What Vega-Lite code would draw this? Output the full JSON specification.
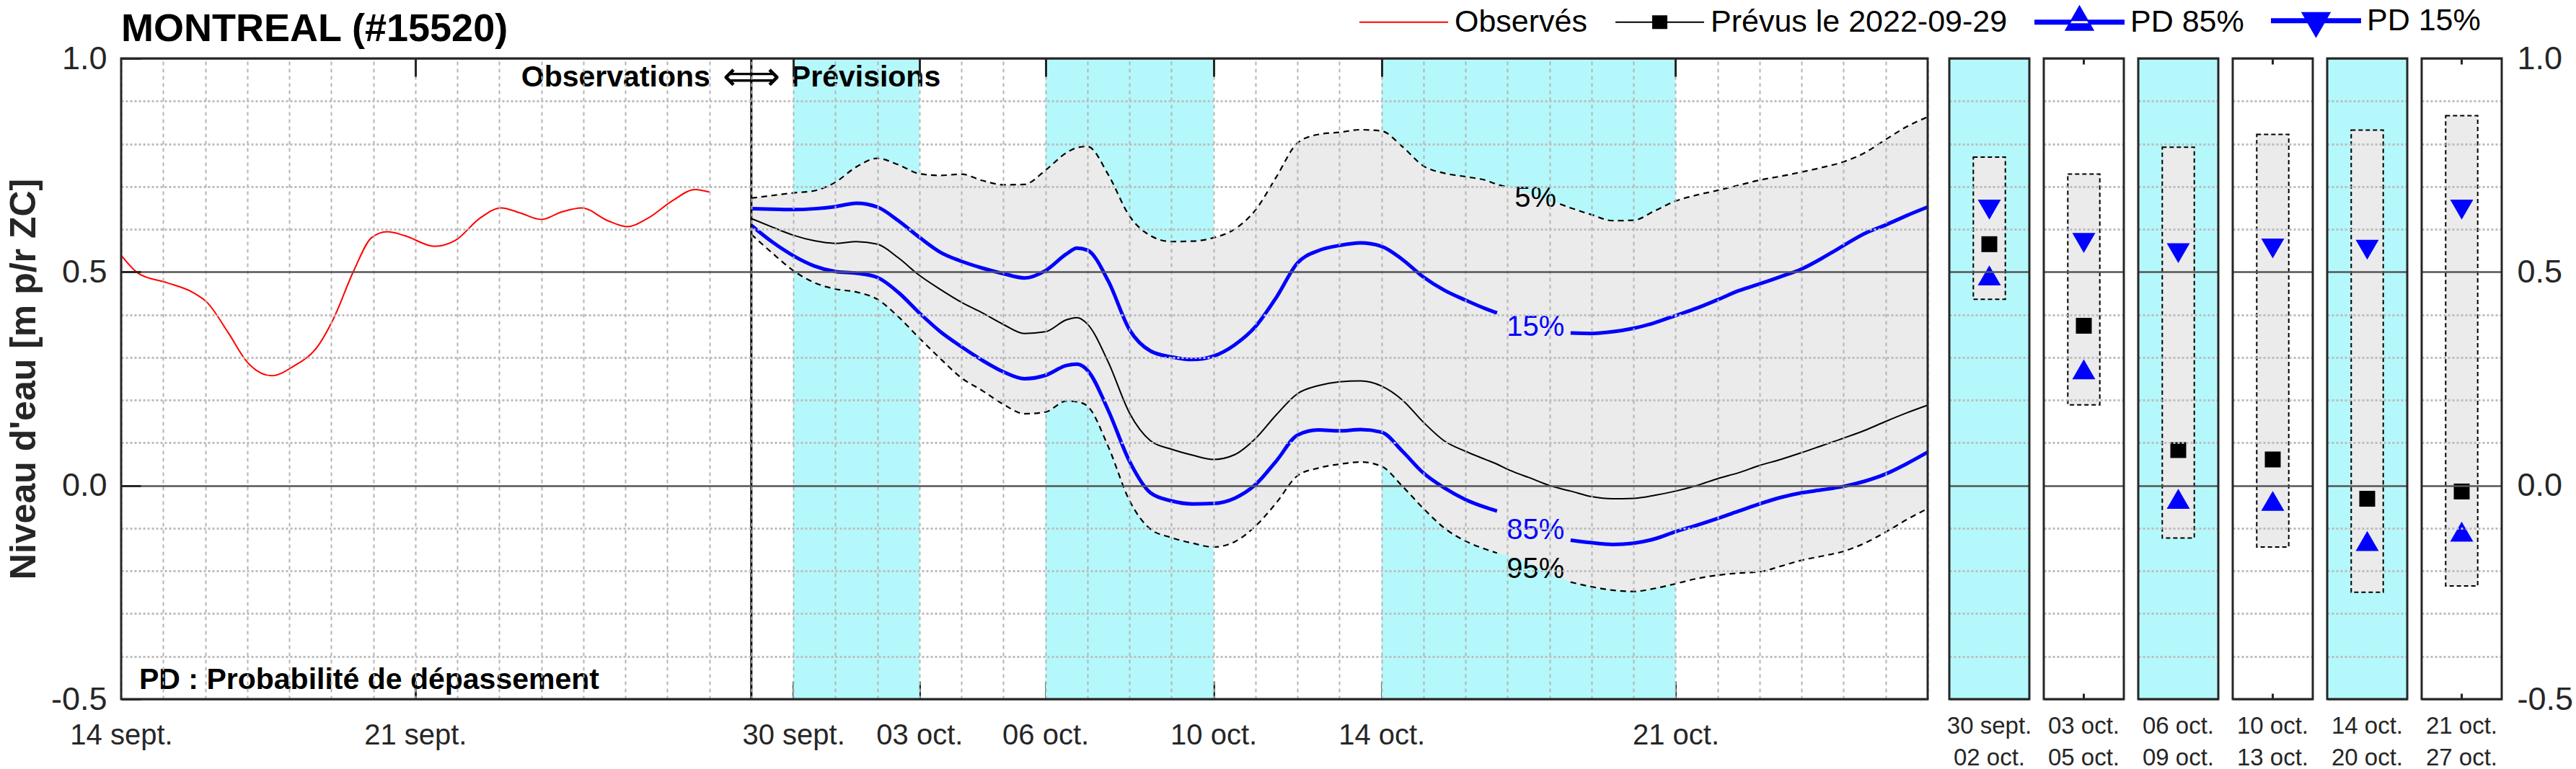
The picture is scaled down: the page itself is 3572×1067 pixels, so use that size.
{
  "$schema": "https://vega.github.io/schema/vega-lite/v6.json",
  "background": "white",
  "padding": {"left": 6, "top": 7, "right": 0, "bottom": 0},
  "datasets": {
    "obs": [
      {"t":"2022-09-14T00:00:00Z","v":0.539},{"t":"2022-09-14T10:00:00Z","v":0.496},{"t":"2022-09-15T02:00:00Z","v":0.475},
      {"t":"2022-09-15T17:00:00Z","v":0.452},{"t":"2022-09-16T01:00:00Z","v":0.429},{"t":"2022-09-16T13:00:00Z","v":0.359},
      {"t":"2022-09-17T00:00:00Z","v":0.289},{"t":"2022-09-17T14:00:00Z","v":0.257},{"t":"2022-09-18T02:00:00Z","v":0.278},
      {"t":"2022-09-18T17:00:00Z","v":0.330},{"t":"2022-09-19T01:00:00Z","v":0.388},{"t":"2022-09-19T13:00:00Z","v":0.504},
      {"t":"2022-09-19T23:00:00Z","v":0.580},{"t":"2022-09-20T08:00:00Z","v":0.594},{"t":"2022-09-20T18:00:00Z","v":0.585},
      {"t":"2022-09-21T11:00:00Z","v":0.560},{"t":"2022-09-21T23:00:00Z","v":0.574},{"t":"2022-09-22T13:00:00Z","v":0.626},
      {"t":"2022-09-23T01:00:00Z","v":0.650},{"t":"2022-09-23T12:00:00Z","v":0.638},{"t":"2022-09-24T00:00:00Z","v":0.623},
      {"t":"2022-09-24T12:00:00Z","v":0.641},{"t":"2022-09-24T23:00:00Z","v":0.650},{"t":"2022-09-25T14:00:00Z","v":0.620},
      {"t":"2022-09-26T01:00:00Z","v":0.606},{"t":"2022-09-26T13:00:00Z","v":0.626},{"t":"2022-09-27T03:00:00Z","v":0.667},
      {"t":"2022-09-27T16:00:00Z","v":0.693},{"t":"2022-09-28T00:00:00Z","v":0.687}
    ],
    "prevision": [
      {"t":"2022-09-29T00:00:00Z","p5":0.673,"p15":0.648,"moy":0.625,"p85":0.609,"p95":0.588},
      {"t":"2022-09-29T12:00:00Z","p5":0.679,"p15":0.647,"moy":0.605,"p85":0.570,"p95":0.544},
      {"t":"2022-09-30T00:00:00Z","p5":0.685,"p15":0.646,"moy":0.586,"p85":0.538,"p95":0.503},
      {"t":"2022-09-30T12:00:00Z","p5":0.690,"p15":0.648,"moy":0.573,"p85":0.514,"p95":0.475},
      {"t":"2022-10-01T00:00:00Z","p5":0.710,"p15":0.653,"moy":0.567,"p85":0.501,"p95":0.460},
      {"t":"2022-10-01T12:00:00Z","p5":0.746,"p15":0.661,"moy":0.571,"p85":0.497,"p95":0.453},
      {"t":"2022-10-02T00:00:00Z","p5":0.766,"p15":0.652,"moy":0.565,"p85":0.487,"p95":0.436},
      {"t":"2022-10-02T12:00:00Z","p5":0.751,"p15":0.620,"moy":0.533,"p85":0.452,"p95":0.395},
      {"t":"2022-10-03T00:00:00Z","p5":0.730,"p15":0.581,"moy":0.492,"p85":0.404,"p95":0.345},
      {"t":"2022-10-03T12:00:00Z","p5":0.726,"p15":0.546,"moy":0.459,"p85":0.360,"p95":0.297},
      {"t":"2022-10-04T00:00:00Z","p5":0.729,"p15":0.525,"moy":0.429,"p85":0.325,"p95":0.252},
      {"t":"2022-10-04T12:00:00Z","p5":0.714,"p15":0.509,"moy":0.404,"p85":0.293,"p95":0.222},
      {"t":"2022-10-05T00:00:00Z","p5":0.704,"p15":0.496,"moy":0.377,"p85":0.266,"p95":0.190},
      {"t":"2022-10-05T12:00:00Z","p5":0.705,"p15":0.486,"moy":0.356,"p85":0.250,"p95":0.168},
      {"t":"2022-10-06T00:00:00Z","p5":0.738,"p15":0.503,"moy":0.360,"p85":0.258,"p95":0.172},
      {"t":"2022-10-06T12:00:00Z","p5":0.779,"p15":0.542,"moy":0.388,"p85":0.281,"p95":0.198},
      {"t":"2022-10-06T18:00:00Z","p5":0.791,"p15":0.556,"moy":0.393,"p85":0.284,"p95":0.196},
      {"t":"2022-10-07T00:00:00Z","p5":0.794,"p15":0.551,"moy":0.378,"p85":0.270,"p95":0.186},
      {"t":"2022-10-07T12:00:00Z","p5":0.727,"p15":0.478,"moy":0.288,"p85":0.175,"p95":0.090},
      {"t":"2022-10-08T00:00:00Z","p5":0.631,"p15":0.365,"moy":0.170,"p85":0.057,"p95":-0.035},
      {"t":"2022-10-08T12:00:00Z","p5":0.585,"p15":0.315,"moy":0.105,"p85":-0.017,"p95":-0.102},
      {"t":"2022-10-09T00:00:00Z","p5":0.571,"p15":0.301,"moy":0.085,"p85":-0.036,"p95":-0.122},
      {"t":"2022-10-09T12:00:00Z","p5":0.572,"p15":0.295,"moy":0.071,"p85":-0.043,"p95":-0.135},
      {"t":"2022-10-10T00:00:00Z","p5":0.580,"p15":0.303,"moy":0.061,"p85":-0.042,"p95":-0.144},
      {"t":"2022-10-10T12:00:00Z","p5":0.600,"p15":0.329,"moy":0.072,"p85":-0.030,"p95":-0.132},
      {"t":"2022-10-11T00:00:00Z","p5":0.645,"p15":0.372,"moy":0.110,"p85":0.002,"p95":-0.095},
      {"t":"2022-10-11T12:00:00Z","p5":0.723,"p15":0.441,"moy":0.166,"p85":0.058,"p95":-0.040},
      {"t":"2022-10-12T00:00:00Z","p5":0.802,"p15":0.521,"moy":0.215,"p85":0.118,"p95":0.023},
      {"t":"2022-10-12T12:00:00Z","p5":0.822,"p15":0.550,"moy":0.234,"p85":0.130,"p95":0.041},
      {"t":"2022-10-13T00:00:00Z","p5":0.827,"p15":0.562,"moy":0.243,"p85":0.128,"p95":0.050},
      {"t":"2022-10-13T12:00:00Z","p5":0.833,"p15":0.568,"moy":0.245,"p85":0.131,"p95":0.055},
      {"t":"2022-10-14T00:00:00Z","p5":0.830,"p15":0.560,"moy":0.233,"p85":0.125,"p95":0.045},
      {"t":"2022-10-14T12:00:00Z","p5":0.793,"p15":0.529,"moy":0.200,"p85":0.080,"p95":-0.002},
      {"t":"2022-10-15T00:00:00Z","p5":0.748,"p15":0.488,"moy":0.148,"p85":0.029,"p95":-0.054},
      {"t":"2022-10-15T12:00:00Z","p5":0.731,"p15":0.457,"moy":0.104,"p85":-0.006,"p95":-0.100},
      {"t":"2022-10-16T00:00:00Z","p5":0.723,"p15":0.434,"moy":0.080,"p85":-0.033,"p95":-0.130},
      {"t":"2022-10-16T12:00:00Z","p5":0.714,"p15":0.413,"moy":0.060,"p85":-0.052,"p95":-0.150},
      {"t":"2022-10-16T18:00:00Z","p5":0.705,"p15":0.404,"moy":0.050,"p85":-0.060,"p95":-0.158},
      {"t":"2022-10-17T00:00:00Z","p5":0.699,"p15":0.395,"moy":0.038,"p85":-0.075,"p95":-0.165},
      {"t":"2022-10-17T06:00:00Z","p5":0.693,"p15":0.385,"moy":0.028,"p85":-0.090,"p95":-0.172},
      {"t":"2022-10-17T12:00:00Z","p5":0.684,"p15":0.376,"moy":0.019,"p85":-0.100,"p95":-0.182},
      {"t":"2022-10-18T00:00:00Z","p5":0.666,"p15":0.362,"moy":0.000,"p85":-0.118,"p95":-0.203},
      {"t":"2022-10-18T06:00:00Z","p5":0.659,"p15":0.359,"moy":-0.007,"p85":-0.124,"p95":-0.214},
      {"t":"2022-10-18T12:00:00Z","p5":0.650,"p15":0.357,"moy":-0.013,"p85":-0.128,"p95":-0.226},
      {"t":"2022-10-19T00:00:00Z","p5":0.634,"p15":0.356,"moy":-0.026,"p85":-0.134,"p95":-0.237},
      {"t":"2022-10-19T12:00:00Z","p5":0.620,"p15":0.360,"moy":-0.031,"p85":-0.138,"p95":-0.245},
      {"t":"2022-10-20T00:00:00Z","p5":0.621,"p15":0.368,"moy":-0.030,"p85":-0.135,"p95":-0.248},
      {"t":"2022-10-20T12:00:00Z","p5":0.643,"p15":0.381,"moy":-0.023,"p85":-0.125,"p95":-0.241},
      {"t":"2022-10-21T00:00:00Z","p5":0.666,"p15":0.398,"moy":-0.013,"p85":-0.108,"p95":-0.230},
      {"t":"2022-10-21T12:00:00Z","p5":0.680,"p15":0.415,"moy":0.000,"p85":-0.093,"p95":-0.218},
      {"t":"2022-10-22T00:00:00Z","p5":0.691,"p15":0.435,"moy":0.016,"p85":-0.077,"p95":-0.210},
      {"t":"2022-10-22T12:00:00Z","p5":0.703,"p15":0.456,"moy":0.030,"p85":-0.060,"p95":-0.205},
      {"t":"2022-10-23T00:00:00Z","p5":0.715,"p15":0.472,"moy":0.047,"p85":-0.043,"p95":-0.202},
      {"t":"2022-10-23T12:00:00Z","p5":0.724,"p15":0.489,"moy":0.061,"p85":-0.028,"p95":-0.189},
      {"t":"2022-10-24T00:00:00Z","p5":0.734,"p15":0.507,"moy":0.077,"p85":-0.017,"p95":-0.175},
      {"t":"2022-10-24T12:00:00Z","p5":0.745,"p15":0.533,"moy":0.094,"p85":-0.010,"p95":-0.165},
      {"t":"2022-10-25T00:00:00Z","p5":0.758,"p15":0.562,"moy":0.111,"p85":-0.002,"p95":-0.154},
      {"t":"2022-10-25T12:00:00Z","p5":0.779,"p15":0.590,"moy":0.129,"p85":0.010,"p95":-0.135},
      {"t":"2022-10-26T00:00:00Z","p5":0.810,"p15":0.610,"moy":0.150,"p85":0.027,"p95":-0.109},
      {"t":"2022-10-26T12:00:00Z","p5":0.840,"p15":0.632,"moy":0.170,"p85":0.051,"p95":-0.080},
      {"t":"2022-10-27T00:00:00Z","p5":0.863,"p15":0.652,"moy":0.188,"p85":0.078,"p95":-0.054}
    ],
    "periodes": [
      {"periode":"30 sept.|02 oct.","debut":"2022-09-30T00:00:00Z","fin":"2022-10-03T00:00:00Z","bande":1,"haut":0.769,"bas":0.436,"pd15":0.646,"moy":0.565,"pd85":0.492},
      {"periode":"03 oct.|05 oct.","debut":"2022-10-03T00:00:00Z","fin":"2022-10-06T00:00:00Z","bande":0,"haut":0.729,"bas":0.189,"pd15":0.568,"moy":0.374,"pd85":0.272},
      {"periode":"06 oct.|09 oct.","debut":"2022-10-06T00:00:00Z","fin":"2022-10-10T00:00:00Z","bande":1,"haut":0.792,"bas":-0.123,"pd15":0.544,"moy":0.083,"pd85":-0.031},
      {"periode":"10 oct.|13 oct.","debut":"2022-10-10T00:00:00Z","fin":"2022-10-14T00:00:00Z","bande":0,"haut":0.822,"bas":-0.144,"pd15":0.555,"moy":0.061,"pd85":-0.036},
      {"periode":"14 oct.|20 oct.","debut":"2022-10-14T00:00:00Z","fin":"2022-10-21T00:00:00Z","bande":1,"haut":0.832,"bas":-0.250,"pd15":0.552,"moy":-0.031,"pd85":-0.130},
      {"periode":"21 oct.|27 oct.","debut":"2022-10-21T00:00:00Z","fin":"2022-10-28T00:00:00Z","bande":0,"haut":0.866,"bas":-0.235,"pd15":0.646,"moy":-0.014,"pd85":-0.108}
    ],
    "etiquettes": [
      {"t":"2022-10-17T16:00:00Z","v":0.673,"texte":"5%","serie":"5%"},
      {"t":"2022-10-17T16:00:00Z","v":0.371,"texte":"15%","serie":"PD 15%"},
      {"t":"2022-10-17T16:00:00Z","v":-0.105,"texte":"85%","serie":"PD 85%"},
      {"t":"2022-10-17T16:00:00Z","v":-0.196,"texte":"95%","serie":"95%"}
    ],
    "annotations": [
      {"cle":"obs","texte":"Observations","t":"2022-09-29T00:00:00Z","v":0.954},
      {"cle":"fleche","texte":"⟺","t":"2022-09-29T00:00:00Z","v":0.954},
      {"cle":"prev","texte":"Prévisions","t":"2022-09-29T00:00:00Z","v":0.954},
      {"cle":"pd","texte":"PD : Probabilité de dépassement","t":"2022-09-14T00:00:00Z","v":-0.456}
    ]
  },
  "hconcat": [
    {
      "width": 2505,
      "height": 889,
      "title": {"text": "MONTREAL (#15520)", "anchor": "start", "frame": "group", "fontSize": 54, "fontWeight": "bold", "font": "Liberation Sans", "color": "#000000", "offset": -52, "baseline": "alphabetic"},
      "resolve": {"axis": {"x": "independent", "y": "independent"}},
      "layer": [
        {
          "data": {"name": "periodes"},
          "transform": [{"filter": "datum.bande == 1"}],
          "mark": {"type": "rect", "color": "#b4f8fb"},
          "encoding": {
            "x": {"field": "debut", "type": "temporal",
              "scale": {"type": "utc", "nice": false, "domain": [{"year": 2022, "month": 9, "date": 14, "utc": true}, {"year": 2022, "month": 10, "date": 27, "utc": true}]},
              "axis": {"orient": "bottom", "title": null, "ticks": false, "grid": false, "domain": false, "labelFlush": false, "labelOverlap": false, "labelBound": false,
                "values": [{"year":2022,"month":9,"date":14,"utc":true},{"year":2022,"month":9,"date":21,"utc":true},{"year":2022,"month":9,"date":30,"utc":true},{"year":2022,"month":10,"date":3,"utc":true},{"year":2022,"month":10,"date":6,"utc":true},{"year":2022,"month":10,"date":10,"utc":true},{"year":2022,"month":10,"date":14,"utc":true},{"year":2022,"month":10,"date":21,"utc":true}],
                "labelExpr": "utcFormat(datum.value, '%d') + (utcmonth(datum.value) == 8 ? ' sept.' : ' oct.')",
                "labelFontSize": 40, "labelFont": "Liberation Sans", "labelColor": "#262626", "labelPadding": 30, "labelBaseline": "top"}},
            "x2": {"field": "fin"},
            "y": {"datum": 1.0, "type": "quantitative", "axis": null},
            "y2": {"datum": -0.5}
          }
        },
        {
          "data": {"name": "prevision"},
          "mark": {"type": "area", "color": "#ebebeb", "interpolate": "monotone"},
          "encoding": {
            "x": {"field": "t", "type": "temporal",
              "axis": {"orient": "top", "title": null, "labels": false, "domain": false, "grid": true, "gridColor": "#b4b4b4", "gridDash": [5, 5], "gridWidth": 2, "zindex": 1,
                "tickCount": {"interval": "day", "step": 1}, "ticks": true, "tickSize": -25, "tickWidth": 3,
                "tickColor": {"condition": {"test": "indexof(['09-21','09-30','10-03','10-06','10-10','10-14','10-21'], utcFormat(datum.value, '%m-%d')) >= 0", "value": "#262626"}, "value": "transparent"}}},
            "y": {"field": "p95", "type": "quantitative",
              "scale": {"domain": [-0.5, 1.0], "nice": false, "zero": false},
              "axis": {"orient": "left", "title": null, "labels": false, "domain": false, "zindex": 1,
                "values": [-0.5,-0.4,-0.3,-0.2,-0.1,0,0.1,0.2,0.3,0.4,0.5,0.6,0.7,0.8,0.9,1.0],
                "grid": true,
                "gridColor": {"condition": {"test": "abs(datum.value*2 - round(datum.value*2)) < 0.001", "value": "#555555"}, "value": "#bdbdbd"},
                "gridDash": {"condition": {"test": "abs(datum.value*2 - round(datum.value*2)) < 0.001", "value": []}, "value": [3, 3]},
                "gridWidth": {"condition": {"test": "abs(datum.value*2 - round(datum.value*2)) < 0.001", "value": 2.5}, "value": 3},
                "ticks": true, "tickSize": -27, "tickWidth": 3,
                "tickColor": {"condition": {"test": "abs(datum.value*2 - round(datum.value*2)) < 0.001", "value": "#262626"}, "value": "transparent"}}},
            "y2": {"field": "p5"}
          }
        },
        {
          "data": {"name": "obs"},
          "mark": {"type": "line", "strokeWidth": 2, "interpolate": "monotone"},
          "encoding": {
            "x": {"field": "t", "type": "temporal",
              "axis": {"orient": "bottom", "title": null, "labels": false, "domain": false, "grid": false, "ticks": true, "tickSize": -25, "tickWidth": 3, "tickColor": "#262626",
                "values": [{"year":2022,"month":9,"date":21,"utc":true},{"year":2022,"month":9,"date":30,"utc":true},{"year":2022,"month":10,"date":3,"utc":true},{"year":2022,"month":10,"date":6,"utc":true},{"year":2022,"month":10,"date":10,"utc":true},{"year":2022,"month":10,"date":14,"utc":true},{"year":2022,"month":10,"date":21,"utc":true}]}},
            "y": {"field": "v", "type": "quantitative",
              "axis": {"orient": "left", "values": [-0.5, 0, 0.5, 1.0], "labelExpr": "(datum.value < 0 ? '-' : '') + format(abs(datum.value), '.1f')",
                "labelFontSize": 45, "labelFont": "Liberation Sans", "labelColor": "#262626", "labelPadding": 20, "labelFlush": false, "labelOverlap": false,
                "ticks": false, "grid": false, "domain": false,
                "title": "Niveau d'eau [m p/r ZC]", "titleFont": "Liberation Sans", "titleFontSize": 50, "titleFontWeight": "bold", "titleColor": "#262626", "titlePadding": 12}},
            "color": {"datum": "Observés", "type": "nominal",
              "scale": {"domain": ["Observés", "Prévus le 2022-09-29", "PD 85%", "PD 15%", "5%", "95%"], "range": ["#ff0000", "#000000", "#0000ff", "#0000ff", "#000000", "#000000"]},
              "legend": {"orient": "none", "legendX": 1757, "legendY": -74, "direction": "horizontal", "columns": 4, "title": null,
                "values": ["Observés", "Prévus le 2022-09-29", "PD 85%", "PD 15%"],
                "labelFont": "Liberation Sans", "labelFontSize": 43, "labelColor": "#000000", "labelLimit": 1000,
                "labelOffset": 49, "columnPadding": 34, "padding": 0, "symbolSize": 1600, "symbolStrokeWidth": 2,
                "encode": {"symbols": {"update": {
                  "shape": {"signal": "datum.value == 'Observés' ? 'M-3.075,0H3.075' : datum.value == 'PD 85%' ? 'M-3.075,-0.125H3.075V0.125H-3.075ZM-0.95,0.55H0.95L0,-1.1Z' : datum.value == 'PD 15%' ? 'M-3.075,-0.125H3.075V0.125H-3.075ZM-0.95,-0.55H0.95L0,1.1Z' : 'M-3.075,0H3.075M-0.475,-0.425H0.475V0.425H-0.475Z'"},
                  "fill": {"signal": "datum.value == 'Observés' ? 'transparent' : indexof(datum.value, 'PD') == 0 ? '#0000ff' : '#000000'"},
                  "stroke": {"signal": "datum.value == 'Observés' ? '#ff0000' : indexof(datum.value, 'PD') == 0 ? '#0000ff' : '#000000'"},
                  "strokeWidth": {"value": 2},
                  "opacity": {"value": 1}
                }}}}}
          }
        },
        {
          "data": {"name": "prevision"},
          "mark": {"type": "line", "strokeWidth": 2, "interpolate": "monotone"},
          "encoding": {
            "x": {"field": "t", "type": "temporal", "axis": null},
            "y": {"field": "moy", "type": "quantitative",
              "axis": {"orient": "right", "values": [0, 0.5], "labels": false, "domain": false, "grid": false, "ticks": true, "tickSize": -27, "tickWidth": 3, "tickColor": "#262626", "title": null}},
            "color": {"datum": "Prévus le 2022-09-29", "type": "nominal", "legend": null}
          }
        },
        {
          "data": {"name": "prevision"},
          "transform": [{"filter": "time(datum.t) <= time('2022-10-17T00:00:00Z')"}],
          "mark": {"type": "line", "strokeWidth": 2.2, "strokeDash": [8, 6], "interpolate": "monotone"},
          "encoding": {"x": {"field": "t", "type": "temporal", "axis": null}, "y": {"field": "p5", "type": "quantitative", "axis": null}, "color": {"datum": "5%", "type": "nominal", "legend": null}}
        },
        {
          "data": {"name": "prevision"},
          "transform": [{"filter": "time(datum.t) >= time('2022-10-18T06:00:00Z')"}],
          "mark": {"type": "line", "strokeWidth": 2.2, "strokeDash": [8, 6], "interpolate": "monotone"},
          "encoding": {"x": {"field": "t", "type": "temporal", "axis": null}, "y": {"field": "p5", "type": "quantitative", "axis": null}, "color": {"datum": "5%", "type": "nominal", "legend": null}}
        },
        {
          "data": {"name": "prevision"},
          "transform": [{"filter": "time(datum.t) <= time('2022-10-16T18:00:00Z')"}],
          "mark": {"type": "line", "strokeWidth": 2.2, "strokeDash": [8, 6], "interpolate": "monotone"},
          "encoding": {"x": {"field": "t", "type": "temporal", "axis": null}, "y": {"field": "p95", "type": "quantitative", "axis": null}, "color": {"datum": "95%", "type": "nominal", "legend": null}}
        },
        {
          "data": {"name": "prevision"},
          "transform": [{"filter": "time(datum.t) >= time('2022-10-18T12:00:00Z')"}],
          "mark": {"type": "line", "strokeWidth": 2.2, "strokeDash": [8, 6], "interpolate": "monotone"},
          "encoding": {"x": {"field": "t", "type": "temporal", "axis": null}, "y": {"field": "p95", "type": "quantitative", "axis": null}, "color": {"datum": "95%", "type": "nominal", "legend": null}}
        },
        {
          "data": {"name": "prevision"},
          "transform": [{"filter": "time(datum.t) <= time('2022-10-16T18:00:00Z')"}],
          "mark": {"type": "line", "strokeWidth": 5, "interpolate": "monotone"},
          "encoding": {"x": {"field": "t", "type": "temporal", "axis": null}, "y": {"field": "p15", "type": "quantitative", "axis": null}, "color": {"datum": "PD 15%", "type": "nominal", "legend": null}}
        },
        {
          "data": {"name": "prevision"},
          "transform": [{"filter": "time(datum.t) >= time('2022-10-18T12:00:00Z')"}],
          "mark": {"type": "line", "strokeWidth": 5, "interpolate": "monotone"},
          "encoding": {"x": {"field": "t", "type": "temporal", "axis": null}, "y": {"field": "p15", "type": "quantitative", "axis": null}, "color": {"datum": "PD 15%", "type": "nominal", "legend": null}}
        },
        {
          "data": {"name": "prevision"},
          "transform": [{"filter": "time(datum.t) <= time('2022-10-16T18:00:00Z')"}],
          "mark": {"type": "line", "strokeWidth": 5, "interpolate": "monotone"},
          "encoding": {"x": {"field": "t", "type": "temporal", "axis": null}, "y": {"field": "p85", "type": "quantitative", "axis": null}, "color": {"datum": "PD 85%", "type": "nominal", "legend": null}}
        },
        {
          "data": {"name": "prevision"},
          "transform": [{"filter": "time(datum.t) >= time('2022-10-18T12:00:00Z')"}],
          "mark": {"type": "line", "strokeWidth": 5, "interpolate": "monotone"},
          "encoding": {"x": {"field": "t", "type": "temporal", "axis": null}, "y": {"field": "p85", "type": "quantitative", "axis": null}, "color": {"datum": "PD 85%", "type": "nominal", "legend": null}}
        },
        {
          "data": {"name": "etiquettes"},
          "mark": {"type": "text", "fontSize": 40, "font": "Liberation Sans", "align": "center", "baseline": "middle"},
          "encoding": {"x": {"field": "t", "type": "temporal", "axis": null}, "y": {"field": "v", "type": "quantitative", "axis": null}, "text": {"field": "texte"}, "color": {"field": "serie", "type": "nominal", "legend": null}}
        },
        {
          "data": {"name": "annotations"},
          "transform": [{"filter": "datum.cle == 'fleche'"}],
          "mark": {"type": "rule", "color": "#000000", "strokeWidth": 3},
          "encoding": {"x": {"field": "t", "type": "temporal", "axis": null}}
        },
        {
          "data": {"name": "annotations"},
          "transform": [{"filter": "datum.cle == 'obs'"}],
          "mark": {"type": "text", "fontSize": 41, "fontWeight": "bold", "font": "Liberation Sans", "align": "right", "baseline": "middle", "dx": -57, "color": "#000000"},
          "encoding": {"x": {"field": "t", "type": "temporal", "axis": null}, "y": {"field": "v", "type": "quantitative", "axis": null}, "text": {"field": "texte"}}
        },
        {
          "data": {"name": "annotations"},
          "transform": [{"filter": "datum.cle == 'fleche'"}],
          "mark": {"type": "text", "fontSize": 56, "font": "DejaVu Sans", "align": "center", "baseline": "middle", "color": "#000000"},
          "encoding": {"x": {"field": "t", "type": "temporal", "axis": null}, "y": {"field": "v", "type": "quantitative", "axis": null}, "text": {"field": "texte"}}
        },
        {
          "data": {"name": "annotations"},
          "transform": [{"filter": "datum.cle == 'prev'"}],
          "mark": {"type": "text", "fontSize": 41, "fontWeight": "bold", "font": "Liberation Sans", "align": "left", "baseline": "middle", "dx": 55, "color": "#000000"},
          "encoding": {"x": {"field": "t", "type": "temporal", "axis": null}, "y": {"field": "v", "type": "quantitative", "axis": null}, "text": {"field": "texte"}}
        },
        {
          "data": {"name": "annotations"},
          "transform": [{"filter": "datum.cle == 'pd'"}],
          "mark": {"type": "text", "fontSize": 41, "fontWeight": "bold", "font": "Liberation Sans", "align": "left", "baseline": "middle", "dx": 25, "color": "#000000"},
          "encoding": {"x": {"field": "t", "type": "temporal", "axis": null}, "y": {"field": "v", "type": "quantitative", "axis": null}, "text": {"field": "texte"}}
        }
      ]
    },
    {
      "data": {"name": "periodes"},
      "spacing": 20,
      "bounds": "flush",
      "resolve": {"scale": {"x": "independent"}},
      "facet": {
        "column": {"field": "periode", "type": "nominal", "title": null,
          "sort": ["30 sept.|02 oct.", "03 oct.|05 oct.", "06 oct.|09 oct.", "10 oct.|13 oct.", "14 oct.|20 oct.", "21 oct.|27 oct."],
          "header": {"labelOrient": "bottom", "labelExpr": "split(datum.value, '|')", "labelFontSize": 33, "labelFont": "Liberation Sans", "labelColor": "#262626", "labelLineHeight": 44, "labelPadding": 22, "labelBaseline": "top"}}
      },
      "spec": {
        "width": 111,
        "height": 889,
        "resolve": {"axis": {"x": "independent", "y": "independent"}},
        "layer": [
          {
            "transform": [{"filter": "datum.bande == 1"}],
            "mark": {"type": "rect", "color": "#b4f8fb"},
            "encoding": {
              "y": {"datum": 1.0, "type": "quantitative", "axis": null},
              "y2": {"datum": -0.5}
            }
          },
          {
            "mark": {"type": "bar", "width": {"band": 0.4}, "fill": "#ebebeb", "stroke": "#000000", "strokeDash": [6, 4], "strokeWidth": 2},
            "encoding": {
              "x": {"field": "periode", "type": "nominal", "scale": {"paddingInner": 0, "paddingOuter": 0},
                "axis": {"orient": "bottom", "title": null, "labels": false, "domain": false, "grid": false, "ticks": true, "tickSize": -8, "tickWidth": 3, "tickColor": "#262626"}},
              "y": {"field": "haut", "type": "quantitative",
                "scale": {"domain": [-0.5, 1.0], "nice": false, "zero": false},
                "axis": {"orient": "right", "title": null, "domain": false, "ticks": false, "zindex": 1,
                  "values": [-0.5,-0.4,-0.3,-0.2,-0.1,0,0.1,0.2,0.3,0.4,0.5,0.6,0.7,0.8,0.9,1.0],
                  "labelExpr": "abs(datum.value*2 - round(datum.value*2)) < 0.001 ? (datum.value < 0 ? '-' : '') + format(abs(datum.value), '.1f') : ''",
                  "labelFontSize": 45, "labelFont": "Liberation Sans", "labelColor": "#262626", "labelPadding": 21, "labelFlush": false, "labelOverlap": false, "labelAlign": "left",
                  "grid": true,
                  "gridColor": {"condition": {"test": "abs(datum.value*2 - round(datum.value*2)) < 0.001", "value": "#555555"}, "value": "#bdbdbd"},
                  "gridDash": {"condition": {"test": "abs(datum.value*2 - round(datum.value*2)) < 0.001", "value": []}, "value": [3, 3]},
                  "gridWidth": {"condition": {"test": "abs(datum.value*2 - round(datum.value*2)) < 0.001", "value": 2.5}, "value": 3}}},
              "y2": {"field": "bas"}
            }
          },
          {
            "mark": {"type": "point", "shape": "triangle-down", "filled": true, "color": "#0000ff", "size": 1024, "opacity": 1},
            "encoding": {
              "x": {"field": "periode", "type": "nominal",
                "axis": {"orient": "top", "title": null, "labels": false, "domain": false, "grid": false, "ticks": true, "tickSize": -8, "tickWidth": 3, "tickColor": "#262626"}},
              "y": {"field": "pd15", "type": "quantitative", "axis": null}
            }
          },
          {
            "mark": {"type": "point", "shape": "square", "filled": true, "color": "#000000", "size": 484, "opacity": 1},
            "encoding": {
              "x": {"field": "periode", "type": "nominal", "axis": null},
              "y": {"field": "moy", "type": "quantitative", "axis": null}
            }
          },
          {
            "mark": {"type": "point", "shape": "triangle-up", "filled": true, "color": "#0000ff", "size": 1024, "opacity": 1},
            "encoding": {
              "x": {"field": "periode", "type": "nominal", "axis": null},
              "y": {"field": "pd85", "type": "quantitative", "axis": null}
            }
          }
        ]
      }
    }
  ],
  "spacing": 14,
  "config": {
    "view": {"stroke": "#262626", "strokeWidth": 3},
    "font": "Liberation Sans",
    "style": {"cell": {"strokeForeground": true}}
  }
}
